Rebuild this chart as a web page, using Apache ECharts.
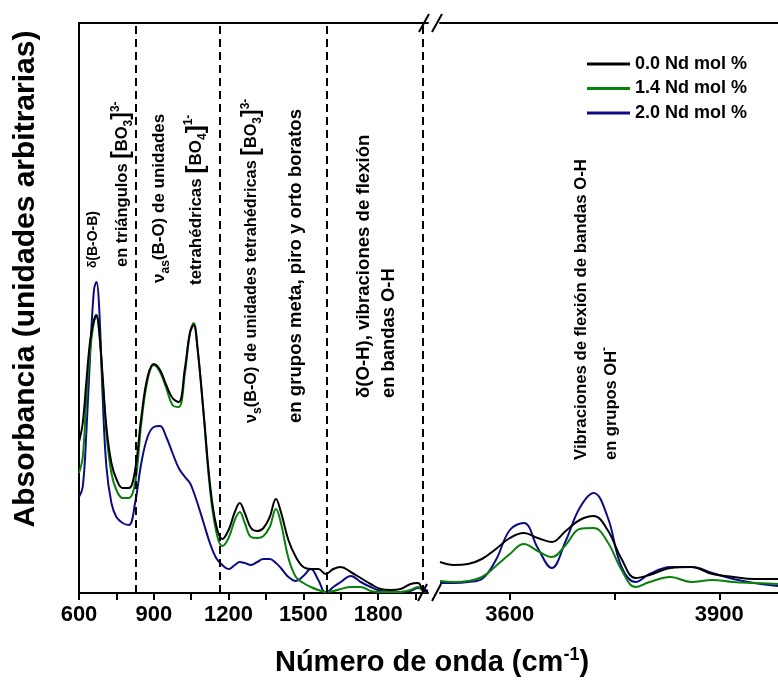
<!DOCTYPE html>
<html>
<head>
<meta charset="utf-8">
<script src="https://cdn.jsdelivr.net/npm/echarts@6/dist/echarts.min.js"></script>
<style>
  html, body { margin: 0; padding: 0; background: #ffffff; }
  #chart { width: 778px; height: 688px; }
</style>
</head>
<body>
<div id="chart"></div>
<script>
// FTIR absorbance spectra of borate glasses doped with Nd (arbitrary units)

// Low wavenumber region (cm-1)
const wnLow = [600, 615, 630, 645, 660, 670, 680, 695, 710, 730,
  750, 775, 800, 825, 850, 875, 900, 925, 950, 975,
  1000, 1025, 1045, 1060, 1075, 1100, 1125, 1150, 1175, 1200,
  1225, 1245, 1265, 1290, 1315, 1340, 1365, 1390, 1410, 1440,
  1470, 1500, 1530, 1560, 1590, 1620, 1650, 1690, 1730, 1770,
  1810, 1850, 1890, 1930, 1960, 1980, 2000];

const nd00Low = [1.51, 1.70, 2.13, 2.53, 2.73, 2.78, 2.65, 2.16, 1.66, 1.30,
  1.14, 1.05, 1.05, 1.23, 1.76, 2.16, 2.29, 2.23, 2.08, 1.95,
  1.91, 2.25, 2.60, 2.68, 2.46, 1.80, 1.10, 0.68, 0.54, 0.63,
  0.81, 0.90, 0.80, 0.65, 0.62, 0.65, 0.76, 0.94, 0.81, 0.53,
  0.36, 0.26, 0.24, 0.24, 0.19, 0.24, 0.26, 0.21, 0.15, 0.09,
  0.04, 0.03, 0.04, 0.09, 0.10, 0.03, 0.01];

const nd14Low = [1.20, 1.36, 1.96, 2.43, 2.71, 2.76, 2.63, 2.13, 1.60, 1.20,
  1.03, 0.95, 0.95, 1.10, 1.70, 2.13, 2.28, 2.21, 2.05, 1.88,
  1.86, 2.20, 2.60, 2.70, 2.46, 1.78, 1.05, 0.62, 0.47, 0.55,
  0.73, 0.81, 0.70, 0.56, 0.55, 0.57, 0.66, 0.84, 0.70, 0.35,
  0.16, 0.10, 0.06, 0.03, 0.01, 0.02, 0.04, 0.06, 0.06, 0.02,
  0.01, 0.01, 0.01, 0.03, 0.06, 0.02, 0.01];

const nd20Low = [0.96, 1.06, 1.63, 2.40, 3.03, 3.11, 2.90, 1.96, 1.26, 0.90,
  0.76, 0.70, 0.68, 0.90, 1.30, 1.56, 1.66, 1.67, 1.56, 1.40,
  1.25, 1.16, 1.10, 1.01, 0.90, 0.70, 0.50, 0.35, 0.28, 0.24,
  0.28, 0.31, 0.30, 0.28, 0.31, 0.34, 0.34, 0.30, 0.25, 0.16,
  0.12, 0.17, 0.24, 0.13, 0.00, 0.06, 0.11, 0.17, 0.11, 0.06,
  0.02, 0.01, 0.01, 0.02, 0.05, 0.04, 0.02];

// High wavenumber region (cm-1)
const wnHigh = [3500, 3520, 3540, 3560, 3580, 3600, 3620, 3640, 3660, 3680,
  3700, 3720, 3740, 3760, 3780, 3800, 3830, 3860, 3890, 3920, 3950, 3984];

const nd00High = [0.31, 0.28, 0.29, 0.34, 0.44, 0.55, 0.60, 0.55, 0.51, 0.62,
  0.73, 0.77, 0.63, 0.34, 0.15, 0.18, 0.25, 0.26, 0.19, 0.16, 0.14, 0.14];

const nd14High = [0.12, 0.11, 0.12, 0.16, 0.27, 0.39, 0.49, 0.42, 0.36, 0.48,
  0.64, 0.65, 0.51, 0.23, 0.06, 0.11, 0.16, 0.11, 0.13, 0.11, 0.10, 0.09];

const nd20High = [0.10, 0.10, 0.11, 0.14, 0.33, 0.63, 0.70, 0.45, 0.25, 0.52,
  0.85, 1.00, 0.76, 0.26, 0.11, 0.19, 0.26, 0.26, 0.20, 0.14, 0.10, 0.07];

const seriesNames = ['0.0 Nd mol %', '1.4 Nd mol %', '2.0 Nd mol %'];
const seriesColors = ['#000000', '#0a800a', '#0c0c84'];

// Axis ticks and labels
const lowTicks = [600, 750, 900, 1050, 1200, 1350, 1500, 1650, 1800, 1950];
const lowLabels = [600, 900, 1200, 1500, 1800];
const highTicks = [3600, 3750, 3900];
const highLabels = [3600, 3900];

// Band region limits (dashed separators)
const bandEdges = [826, 1164, 1593, 1978];

const FONT = '"Liberation Sans", Arial, Helvetica, sans-serif';

const pairs = (xs, ys) => xs.map((x, i) => [x, ys[i]]);

function richFor(size) {
  const base = { fontFamily: FONT, fontWeight: 'bold', fill: '#000' };
  return {
    n:   Object.assign({ fontSize: size, lineHeight: Math.round(size * 1.5) }, base),
    s:   Object.assign({ fontSize: Math.round(size * 0.85), lineHeight: Math.round(size * 1.5) }, base),
    b:   Object.assign({ fontSize: Math.round(size * 1.4), lineHeight: Math.round(size * 1.5) }, base),
    sub: Object.assign({ fontSize: Math.round(size * 0.72), lineHeight: Math.round(size * 0.72), verticalAlign: 'bottom' }, base),
    sup: Object.assign({ fontSize: Math.round(size * 0.72), lineHeight: Math.round(size * 0.72), verticalAlign: 'top' }, base)
  };
}

// Vertical annotation that reads bottom-to-top, starting at yBottom
function vText(x, yBottom, text, size) {
  return {
    type: 'text', x: x, y: yBottom, rotation: Math.PI / 2, silent: true,
    style: {
      text: text, fill: '#000', fontSize: size, fontWeight: 'bold', fontFamily: FONT,
      align: 'left', verticalAlign: 'middle', rich: richFor(size)
    }
  };
}

function slash(x1, y1, x2, y2) {
  return { type: 'line', silent: true, shape: { x1, y1, x2, y2 },
    style: { stroke: '#000', lineWidth: 2 } };
}

const axisLineStyle = { color: '#000', width: 2 };
const tickLabelStyle = { color: '#000', fontSize: 22, fontWeight: 'bold', fontFamily: FONT, margin: 11 };

function bottomAxis(grid, min, max, ticks, labels) {
  return {
    type: 'value', gridIndex: grid, min: min, max: max, position: 'bottom',
    axisLine: { show: true, onZero: false, lineStyle: axisLineStyle },
    axisTick: { show: true, inside: false, length: 7, lineStyle: { color: '#000', width: 2 }, customValues: ticks },
    axisLabel: Object.assign({ show: true, customValues: labels, formatter: v => String(v) }, tickLabelStyle),
    splitLine: { show: false }
  };
}

function topAxis(grid, min, max) {
  return {
    type: 'value', gridIndex: grid, min: min, max: max, position: 'top',
    axisLine: { show: true, onZero: false, lineStyle: axisLineStyle },
    axisTick: { show: false }, axisLabel: { show: false }, splitLine: { show: false }
  };
}

const series = [];
const lowSets = [nd00Low, nd14Low, nd20Low];
const highSets = [nd00High, nd14High, nd20High];
seriesNames.forEach((name, i) => {
  const s = {
    name: name, type: 'line', xAxisIndex: 0, yAxisIndex: 0,
    data: pairs(wnLow, lowSets[i]), smooth: 0.4, showSymbol: false, symbol: 'none',
    lineStyle: { color: seriesColors[i], width: 2 }, itemStyle: { color: seriesColors[i] },
    clip: true, z: 5 - i
  };
  if (i === 0) {
    s.markLine = {
      silent: true, symbol: ['none', 'none'], animation: false,
      label: { show: false },
      lineStyle: { color: '#000', width: 2, type: [8, 5] },
      data: bandEdges.map(v => ({ xAxis: v }))
    };
  }
  series.push(s);
});
seriesNames.forEach((name, i) => {
  series.push({
    name: name, type: 'line', xAxisIndex: 1, yAxisIndex: 1,
    data: pairs(wnHigh, highSets[i]), smooth: 0.4, showSymbol: false, symbol: 'none',
    lineStyle: { color: seriesColors[i], width: 2 }, itemStyle: { color: seriesColors[i] },
    clip: true, z: 5 - i
  });
});

const chart = echarts.init(document.getElementById('chart'), null, { renderer: 'canvas' });
chart.setOption({
  animation: false,
  backgroundColor: '#ffffff',
  textStyle: { fontFamily: FONT },
  grid: [
    { left: 79, top: 23, width: 349, height: 570 },
    { left: 440, top: 23, width: 338, height: 570 }
  ],
  xAxis: [
    bottomAxis(0, 600, 2000, lowTicks, lowLabels),
    bottomAxis(1, 3500, 3984, highTicks, highLabels),
    topAxis(0, 600, 2000),
    topAxis(1, 3500, 3984)
  ],
  yAxis: [
    {
      type: 'value', gridIndex: 0, min: 0, max: 5.7,
      axisLine: { show: true, onZero: false, lineStyle: axisLineStyle },
      axisTick: { show: false }, axisLabel: { show: false }, splitLine: { show: false }
    },
    { type: 'value', gridIndex: 1, min: 0, max: 5.7, show: false }
  ],
  legend: {
    data: seriesNames, orient: 'vertical', left: 582, top: 49,
    icon: 'rect', itemWidth: 43, itemHeight: 3, itemGap: 4.5,
    textStyle: { fontSize: 18, fontWeight: 'bold', color: '#000', fontFamily: FONT, lineHeight: 20 }
  },
  series: series,
  graphic: [
    // axis break marks
    slash(419, 32, 429, 14), slash(432, 32, 442, 14),
    slash(418, 601, 427, 584), slash(432, 601, 441, 584),
    // y axis title
    {
      type: 'text', x: 26, y: 279, rotation: Math.PI / 2, silent: true,
      style: {
        text: 'Absorbancia (unidades arbitrarias)', fill: '#000', fontSize: 30, fontWeight: 'bold',
        fontFamily: FONT, align: 'center', verticalAlign: 'middle'
      }
    },
    // band assignments
    vText(93, 268, '{s|δ}{n|(B-O-B)}', 14),
    vText(122, 267, '{n|en triángulos }{b|[}{n|BO}{sub|3}{b|]}{sup|3-}', 16.5),
    vText(159, 283, '{n|ν}{sub|as}{n|(B-O) de unidades}', 17),
    vText(196, 285, '{n|tetrahédricas }{b|[}{n|BO}{sub|4}{b|]}{sup|1-}', 17),
    vText(252, 423, '{n|ν}{sub|s}{n|(B-O) de unidades tetrahédricas }{b|[}{n|BO}{sub|3}{b|]}{sup|3-}', 16.3),
    vText(296, 423, '{n|en grupos meta, piro y orto boratos}', 18.6),
    vText(364, 398, '{n|δ(O-H), vibraciones de flexión}', 18.6),
    vText(389, 398, '{n|en bandas O-H}', 18.4),
    vText(581, 460, '{n|Vibraciones de flexión de bandas O-H}', 16.8),
    vText(611, 460, '{n|en grupos OH}{sup|-}', 16.5),
    // x axis title
    {
      type: 'text', x: 432, y: 663, silent: true,
      style: {
        text: '{t|Número de onda (cm}{p|-1}{t|)}', align: 'center', verticalAlign: 'middle',
        rich: {
          t: { fontSize: 29, fontWeight: 'bold', fontFamily: FONT, fill: '#000', lineHeight: 34 },
          p: { fontSize: 18, fontWeight: 'bold', fontFamily: FONT, fill: '#000', lineHeight: 18, verticalAlign: 'top' }
        }
      }
    }
  ]
});
</script>
</body>
</html>
